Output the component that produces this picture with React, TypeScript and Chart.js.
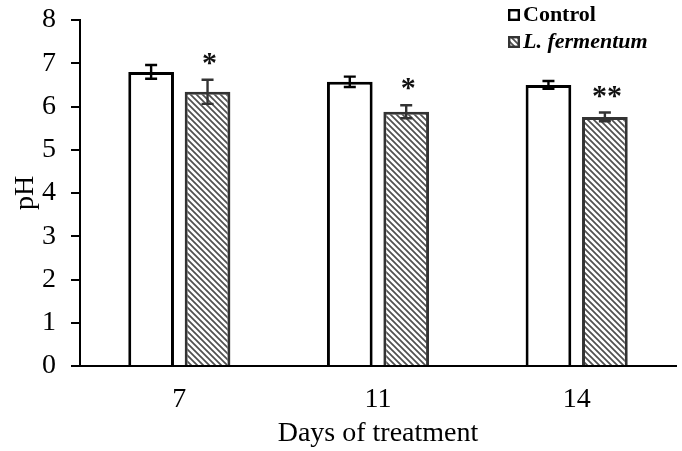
import { useEffect, useRef } from 'react';
import { Chart, registerables } from 'chart.js';

Chart.register(...registerables);

const categories = ['7', '11', '14'];
const seriesLabels = ['Control', 'L. fermentum'];
const controlValues = [6.8, 6.57, 6.5];
const controlErrors = [0.16, 0.12, 0.09];
const fermentumValues = [6.34, 5.88, 5.76];
const fermentumErrors = [0.28, 0.15, 0.1];
const significance = ['*', '*', '**'];
const yMin = 0;
const yMax = 8;
const yStep = 1;

const FONT = "'Liberation Serif', 'Times New Roman', serif";

function makeHatch(ctx: CanvasRenderingContext2D) {
  const s = 6;
  const c = document.createElement('canvas');
  c.width = s;
  c.height = s;
  const g = c.getContext('2d')!;
  g.fillStyle = '#ffffff';
  g.fillRect(0, 0, s, s);
  g.strokeStyle = '#505050';
  g.lineWidth = 1.7;
  g.beginPath();
  g.moveTo(-1, -1);
  g.lineTo(s + 1, s + 1);
  g.moveTo(-1, s - 1);
  g.lineTo(1, s + 1);
  g.moveTo(s - 1, -1);
  g.lineTo(s + 1, 1);
  g.stroke();
  return ctx.createPattern(c, 'repeat')!;
}

export default function App() {
  const ref = useRef<HTMLCanvasElement | null>(null);

  useEffect(() => {
    document.body.style.margin = '0';
    const canvas = ref.current!;
    const ctx0 = canvas.getContext('2d')!;
    const hatch = makeHatch(ctx0);
    const errors = [controlErrors, fermentumErrors];
    const errColors = ['#000000', '#333333'];

    const errorBars = {
      id: 'errorBars',
      afterDatasetsDraw(chart: any) {
        const ctx = chart.ctx;
        const ys = chart.scales.y;
        chart.data.datasets.forEach((ds: any, di: number) => {
          const meta = chart.getDatasetMeta(di);
          meta.data.forEach((el: any, i: number) => {
            const v = ds.data[i];
            const e = errors[di][i];
            const x = el.x;
            const yt = ys.getPixelForValue(v + e);
            const yb = ys.getPixelForValue(v - e);
            ctx.save();
            ctx.strokeStyle = errColors[di];
            ctx.lineWidth = 2.4;
            ctx.beginPath();
            ctx.moveTo(x, yt);
            ctx.lineTo(x, yb);
            ctx.moveTo(x - 6, yt);
            ctx.lineTo(x + 6, yt);
            ctx.moveTo(x - 6, yb);
            ctx.lineTo(x + 6, yb);
            ctx.stroke();
            if (di === 1 && significance[i]) {
              ctx.fillStyle = '#111111';
              ctx.font = `bold 30px ${FONT}`;
              ctx.textAlign = 'center';
              ctx.textBaseline = 'alphabetic';
              ctx.fillText(significance[i], x + 2, yt - 8);
            }
            ctx.restore();
          });
        });
      },
    };

    const legendPlugin = {
      id: 'customLegend',
      afterDraw(chart: any) {
        const ctx = chart.ctx;
        const bx = 508;
        const rows = [9, 36];
        chart.data.datasets.forEach((ds: any, di: number) => {
          const by = rows[di];
          ctx.save();
          ctx.fillStyle = di === 0 ? '#ffffff' : hatch;
          ctx.fillRect(bx, by, 12, 12);
          ctx.strokeStyle = di === 0 ? '#000000' : '#333333';
          ctx.lineWidth = 2.4;
          ctx.strokeRect(bx + 1.2, by + 1.2, 9.6, 9.6);
          ctx.fillStyle = '#000000';
          ctx.font = `${di === 1 ? 'italic ' : ''}bold 22px ${FONT}`;
          ctx.textAlign = 'left';
          ctx.textBaseline = 'alphabetic';
          ctx.fillText(ds.label, bx + 15, by + 12);
          ctx.restore();
        });
      },
    };

    const chart = new Chart(canvas, {
      type: 'bar',
      data: {
        labels: categories,
        datasets: [
          {
            label: seriesLabels[0],
            data: controlValues,
            backgroundColor: '#ffffff',
            borderColor: '#000000',
            borderWidth: 3,
            borderSkipped: 'start',
            categoryPercentage: 0.568,
            barPercentage: 0.81,
          },
          {
            label: seriesLabels[1],
            data: fermentumValues,
            backgroundColor: hatch as any,
            borderColor: '#333333',
            borderWidth: 3,
            borderSkipped: 'start',
            categoryPercentage: 0.568,
            barPercentage: 0.81,
          },
        ],
      },
      options: {
        responsive: false,
        animation: false,
        layout: { padding: { top: 20, right: 6, left: 0, bottom: 0 } },
        plugins: {
          legend: { display: false },
          tooltip: { enabled: false },
        },
        scales: {
          x: {
            grid: { display: false, drawTicks: false },
            border: { display: true, color: '#000000', width: 2 },
            ticks: {
              color: '#000000',
              font: { family: FONT, size: 28 },
              padding: 17,
            },
            title: {
              display: true,
              text: 'Days of treatment',
              color: '#000000',
              font: { family: FONT, size: 28 },
              padding: { top: 0, bottom: 1 },
            },
            afterFit: (s: any) => {
              s.height = 85;
              s.paddingLeft = 0;
              s.paddingRight = 0;
            },
          },
          y: {
            min: yMin,
            max: yMax,
            ticks: {
              stepSize: yStep,
              color: '#000000',
              font: { family: FONT, size: 28 },
              padding: 15,
            },
            grid: {
              drawOnChartArea: false,
              drawTicks: true,
              tickLength: 9,
              color: '#000000',
              lineWidth: 2,
            },
            border: { display: true, color: '#000000', width: 2 },
            title: {
              display: true,
              text: 'pH',
              color: '#000000',
              font: { family: FONT, size: 28 },
              padding: { top: 9, bottom: 0 },
            },
            afterFit: (s: any) => {
              s.width = 80;
              s.paddingTop = 0;
              s.paddingBottom = 0;
            },
          },
        },
      },
      plugins: [errorBars, legendPlugin],
    });

    return () => chart.destroy();
  }, []);

  return (
    <div style={{ width: 682, height: 451 }}>
      <canvas ref={ref} width={682} height={451} style={{ display: 'block' }} />
    </div>
  );
}
